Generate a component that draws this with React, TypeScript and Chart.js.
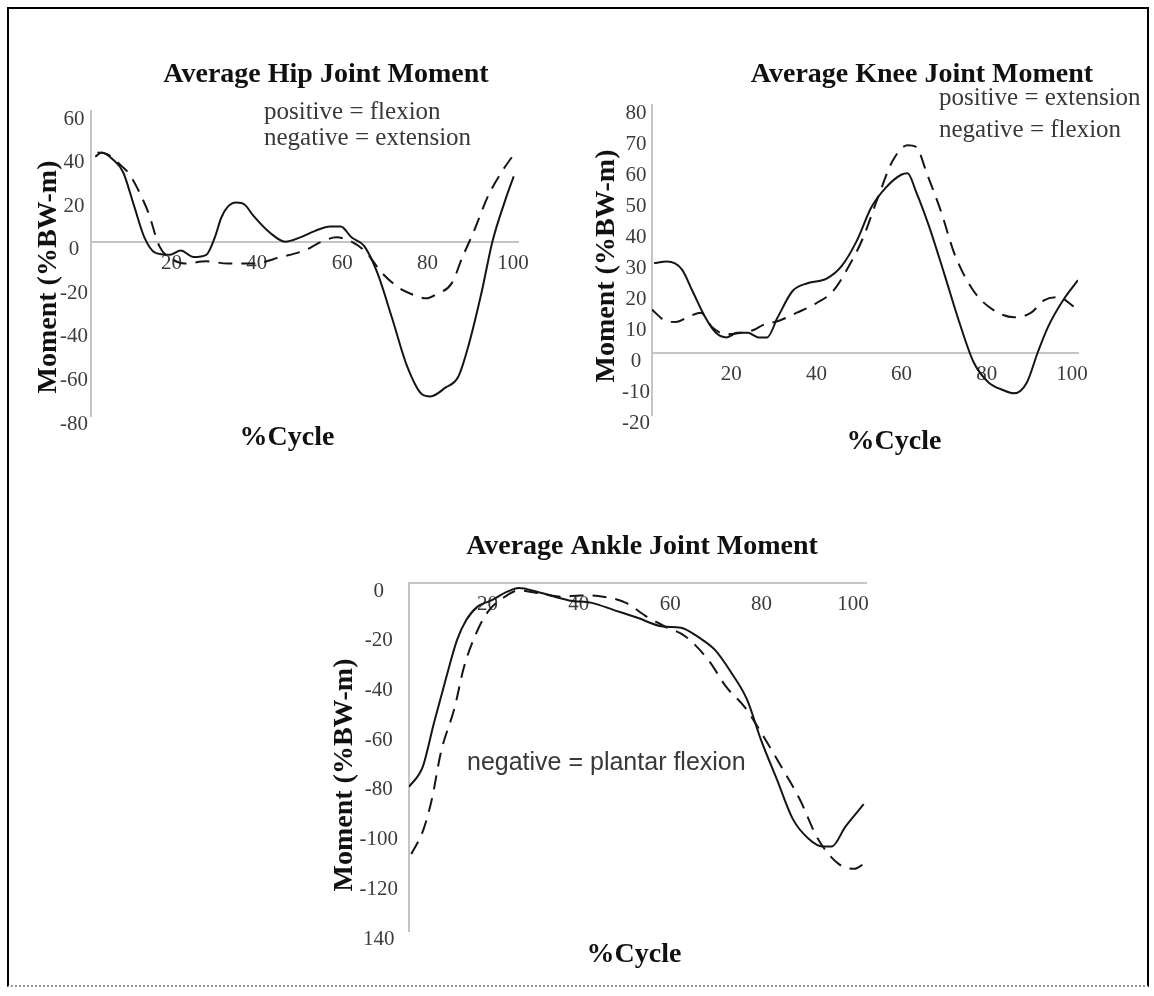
import React, { useEffect, useRef } from "react";
import { Chart, registerables } from "chart.js";

Chart.register(...registerables);

// ---------------- data ----------------
const xTickValues = [20, 40, 60, 80, 100];

const hipYTicks = [60, 40, 20, 0, -20, -40, -60, -80];
const hipSolidX = [1, 2.5, 5, 7.5, 10, 12.5, 15, 18.5, 21, 24, 27, 29, 30.5, 32, 34, 36, 38, 42, 45.5, 49, 52.5, 56, 58.5, 61, 64, 67, 70.5, 74, 77.5, 79.5, 83, 86, 88.5, 91.5, 94, 97, 99];
const hipSolidY = [39, 41, 38, 32, 17, 2, -5, -6, -4, -7, -6, 2, 11, 16, 18, 17, 12, 4, 0, 2, 5, 7, 7, 2, -2, -14, -35, -57, -70, -71, -67, -62, -47, -23, 0, 19, 30];
const hipDashedX = [1.5, 4, 7, 9, 11, 13.5, 16, 19, 22, 27, 32, 38, 44.5, 50, 54, 57.5, 61, 64.5, 68, 72, 75, 78.5, 81, 84.5, 87, 89.5, 93, 96.5, 99];
const hipDashedY = [41, 40, 35, 31, 24, 13, -2, -8, -10, -9, -10, -10, -7, -4, 0, 2, 0, -5, -14, -21, -24, -26, -24, -19, -7, 4, 21, 33, 40];

const kneeYTicks = [80, 70, 60, 50, 40, 30, 20, 10, 0, -10, -20];
const kneeSolidX = [0.5, 3.5, 7, 9.5, 12.5, 15, 17.5, 20, 22.5, 25, 27, 29.5, 33, 36.5, 41, 44.5, 48, 51.5, 55, 58.5, 60, 62, 65, 68.5, 72, 75.5, 79, 82.5, 85, 88, 90.5, 93, 96.5, 100];
const kneeSolidY = [29, 29.5, 27, 20, 11.5, 6.5, 5, 6.5, 6.5, 5, 5, 11.5, 20, 22.5, 24, 28, 36, 47, 53.5, 57.5, 58, 52, 41, 26, 10.5, -3, -9.5, -12, -13, -9.5, 0, 8.5, 17, 23.5];
const kneeDashedX = [0, 3, 5.5, 9, 11.5, 14, 17.5, 21, 24, 26, 30, 34, 38.5, 42.5, 46, 49.5, 53, 56.5, 60, 62, 64.5, 68, 71, 75.5, 80, 85, 89, 92, 95.5, 99];
const kneeDashedY = [14, 10.5, 10, 12, 13, 8.5, 6, 6.5, 7.5, 9, 10.5, 13, 16, 20, 27.5, 37, 50, 62, 67, 66.5, 58, 45, 32, 20, 14, 11.5, 13, 17, 18, 15];

const ankleYTicks = [0, -20, -40, -60, -80, -100, -120, -140];
const ankleYTickLabels = ["0", "-20", "-40", "-60", "-80", "-100", "-120", "140"];
const ankleSolidX = [0, 3, 5.5, 8, 10.5, 12.5, 15, 18, 21.5, 24, 28, 35, 40, 45, 50, 55.5, 59.5, 63.5, 67, 70.5, 74, 77, 80.5, 84, 87.5, 90.5, 92.5, 95.5, 99.5];
const ankleSolidY = [-82, -74, -56, -39, -23, -15, -9.5, -7, -3.5, -2, -3.5, -7, -8, -11, -14, -17.5, -18, -22, -27, -36, -47, -63, -79, -95, -103, -106, -106, -98, -89];
const ankleDashedX = [0.5, 3, 5, 7, 10, 12, 15, 17.5, 21, 24, 28, 33.5, 37.5, 42.5, 47.5, 52, 56, 60.5, 65.5, 69.5, 73.5, 77, 81.5, 85.5, 89.5, 94, 97.5, 99.5];
const ankleDashedY = [-109, -100, -87, -68, -50, -34, -19, -11, -5.5, -3, -4, -5.5, -5, -5.5, -8, -13.5, -17.5, -21.5, -31, -42, -50, -60, -74, -87, -103, -113, -115, -113];

// ---------------- styling ----------------
const SERIF = '"Liberation Serif", "Times New Roman", serif';
const SANS = '"Liberation Sans", Arial, sans-serif';
const AXIS_GRAY = "#c4c4c4";
const TICK_COLOR = "#3c3c3c";
const NOTE_COLOR = "#383838";
const Y_AXIS_W = 60;
const TITLE_FONT = `bold 28px ${SERIF}`;
const AXIS_TITLE_FONT = `bold 28px ${SERIF}`;
const NOTE_FONT = `25px ${SERIF}`;

type TextItem = {
  text: string;
  x: number;
  y: number;
  font: string;
  color?: string;
  align?: CanvasTextAlign;
  rotate?: boolean;
};

type Panel = {
  rect: { left: number; top: number; width: number; height: number };
  area: { l: number; r: number; t: number; b: number };
  yMin: number;
  yMax: number;
  yTicks: number[];
  yLabels?: string[];
  yPad: number;
  xLabelShift: number;
  solidX: number[];
  solidY: number[];
  dashedX: number[];
  dashedY: number[];
  texts: TextItem[];
};

const panels: Panel[] = [
  {
    rect: { left: 10, top: 40, width: 565, height: 440 },
    area: { l: 91, r: 518, t: 111, b: 416 },
    yMin: -80,
    yMax: 60,
    yTicks: hipYTicks,
    yPad: 3,
    xLabelShift: -5,
    solidX: hipSolidX,
    solidY: hipSolidY,
    dashedX: hipDashedX,
    dashedY: hipDashedY,
    texts: [
      { text: "Average Hip Joint Moment", x: 326, y: 75, font: TITLE_FONT, align: "center" },
      { text: "positive = flexion", x: 264, y: 112, font: NOTE_FONT, color: NOTE_COLOR, align: "left" },
      { text: "negative = extension", x: 264, y: 138, font: NOTE_FONT, color: NOTE_COLOR, align: "left" },
      { text: "Moment (%BW-m)", x: 49, y: 277, font: AXIS_TITLE_FONT, align: "center", rotate: true },
      { text: "%Cycle", x: 287, y: 438, font: AXIS_TITLE_FONT, align: "center" },
    ],
  },
  {
    rect: { left: 578, top: 40, width: 566, height: 440 },
    area: { l: 652, r: 1078, t: 105, b: 415 },
    yMin: -20,
    yMax: 80,
    yTicks: kneeYTicks,
    yPad: 2,
    xLabelShift: -6,
    solidX: kneeSolidX,
    solidY: kneeSolidY,
    dashedX: kneeDashedX,
    dashedY: kneeDashedY,
    texts: [
      { text: "Average Knee Joint Moment", x: 922, y: 75, font: TITLE_FONT, align: "center" },
      { text: "positive = extension", x: 939, y: 98, font: NOTE_FONT, color: NOTE_COLOR, align: "left" },
      { text: "negative = flexion", x: 939, y: 130, font: NOTE_FONT, color: NOTE_COLOR, align: "left" },
      { text: "Moment (%BW-m)", x: 607, y: 266, font: AXIS_TITLE_FONT, align: "center", rotate: true },
      { text: "%Cycle", x: 894, y: 442, font: AXIS_TITLE_FONT, align: "center" },
    ],
  },
  {
    rect: { left: 250, top: 500, width: 680, height: 478 },
    area: { l: 409, r: 866, t: 583, b: 931 },
    yMin: -140,
    yMax: 0,
    yTicks: ankleYTicks,
    yLabels: ankleYTickLabels,
    yPad: 11,
    xLabelShift: -13,
    solidX: ankleSolidX,
    solidY: ankleSolidY,
    dashedX: ankleDashedX,
    dashedY: ankleDashedY,
    texts: [
      { text: "Average Ankle Joint Moment", x: 642, y: 547, font: TITLE_FONT, align: "center" },
      { text: "negative = plantar flexion", x: 467, y: 763, font: `25px ${SANS}`, color: NOTE_COLOR, align: "left" },
      { text: "Moment (%BW-m)", x: 345, y: 775, font: AXIS_TITLE_FONT, align: "center", rotate: true },
      { text: "%Cycle", x: 634, y: 955, font: AXIS_TITLE_FONT, align: "center" },
    ],
  },
];

function toPoints(xs: number[], ys: number[]) {
  return xs.map((x, i) => ({ x, y: ys[i] }));
}

function PanelChart({ p }: { p: Panel }) {
  const ref = useRef<HTMLCanvasElement | null>(null);

  useEffect(() => {
    if (!ref.current) return;
    const { rect, area } = p;
    const padding = {
      left: area.l - rect.left - Y_AXIS_W,
      top: area.t - rect.top,
      right: rect.left + rect.width - area.r,
      bottom: rect.top + rect.height - area.b,
    };

    const textPlugin = {
      id: "panelTexts",
      afterDraw(chart: any) {
        const ctx: CanvasRenderingContext2D = chart.ctx;
        for (const t of p.texts) {
          ctx.save();
          ctx.font = t.font;
          ctx.fillStyle = t.color || "#111";
          ctx.textAlign = t.align || "center";
          ctx.textBaseline = "middle";
          const x = t.x - rect.left;
          const y = t.y - rect.top;
          if (t.rotate) {
            ctx.translate(x, y);
            ctx.rotate(-Math.PI / 2);
            ctx.fillText(t.text, 0, 0);
          } else {
            ctx.fillText(t.text, x, y);
          }
          ctx.restore();
        }
      },
    };

    const chart = new Chart(ref.current, {
      type: "line",
      data: {
        datasets: [
          {
            label: "solid",
            data: toPoints(p.solidX, p.solidY),
            borderColor: "#151515",
            borderWidth: 2,
            pointRadius: 0,
            cubicInterpolationMode: "monotone",
            fill: false,
          },
          {
            label: "dashed",
            data: toPoints(p.dashedX, p.dashedY),
            borderColor: "#151515",
            borderWidth: 2,
            borderDash: [14, 9],
            pointRadius: 0,
            cubicInterpolationMode: "monotone",
            fill: false,
          },
        ],
      },
      options: {
        animation: false,
        responsive: false,
        maintainAspectRatio: false,
        layout: { padding, autoPadding: false },
        plugins: {
          legend: { display: false },
          title: { display: false },
          tooltip: { enabled: false },
        },
        scales: {
          x: {
            type: "linear",
            position: { y: 0 } as any,
            min: 0,
            max: 100,
            grid: { display: false, drawTicks: false },
            border: { display: true, color: AXIS_GRAY, width: 2 },
            afterBuildTicks: (s: any) => {
              s.ticks = xTickValues.map((v) => ({ value: v }));
            },
            ticks: {
              autoSkip: false,
              maxRotation: 0,
              padding: 9,
              labelOffset: p.xLabelShift,
              color: TICK_COLOR,
              font: { family: SERIF, size: 21 },
              callback: (v: any) => String(v),
            },
          },
          y: {
            type: "linear",
            position: "left",
            min: p.yMin,
            max: p.yMax,
            grid: { display: false, drawTicks: false },
            border: { display: true, color: AXIS_GRAY, width: 2 },
            afterFit: (s: any) => {
              s.width = Y_AXIS_W;
            },
            afterBuildTicks: (s: any) => {
              s.ticks = [...p.yTicks].sort((a, b) => a - b).map((v) => ({ value: v }));
            },
            ticks: {
              autoSkip: false,
              crossAlign: "center",
              padding: p.yPad,
              labelOffset: 8,
              color: TICK_COLOR,
              font: { family: SERIF, size: 21 },
              callback: (v: any) => {
                const idx = p.yTicks.indexOf(Number(v));
                if (p.yLabels && idx >= 0) return p.yLabels[idx];
                return String(v);
              },
            },
          },
        },
      } as any,
      plugins: [textPlugin],
    });
    return () => chart.destroy();
  }, [p]);

  return (
    <canvas
      ref={ref}
      width={p.rect.width}
      height={p.rect.height}
      style={{
        position: "absolute",
        left: p.rect.left,
        top: p.rect.top,
        width: p.rect.width,
        height: p.rect.height,
      }}
    />
  );
}

export default function App() {
  return (
    <div
      style={{
        position: "absolute",
        left: 0,
        top: 0,
        width: 1154,
        height: 996,
        background: "#fff",
        overflow: "hidden",
      }}
    >
      <div
        style={{
          position: "absolute",
          left: 7,
          top: 7,
          width: 1142,
          height: 980,
          boxSizing: "border-box",
          borderTop: "2px solid #000",
          borderLeft: "2px solid #000",
          borderRight: "2px solid #000",
          borderBottom: "2px dotted #999",
        }}
      />
      {panels.map((p, i) => (
        <PanelChart key={i} p={p} />
      ))}
    </div>
  );
}
